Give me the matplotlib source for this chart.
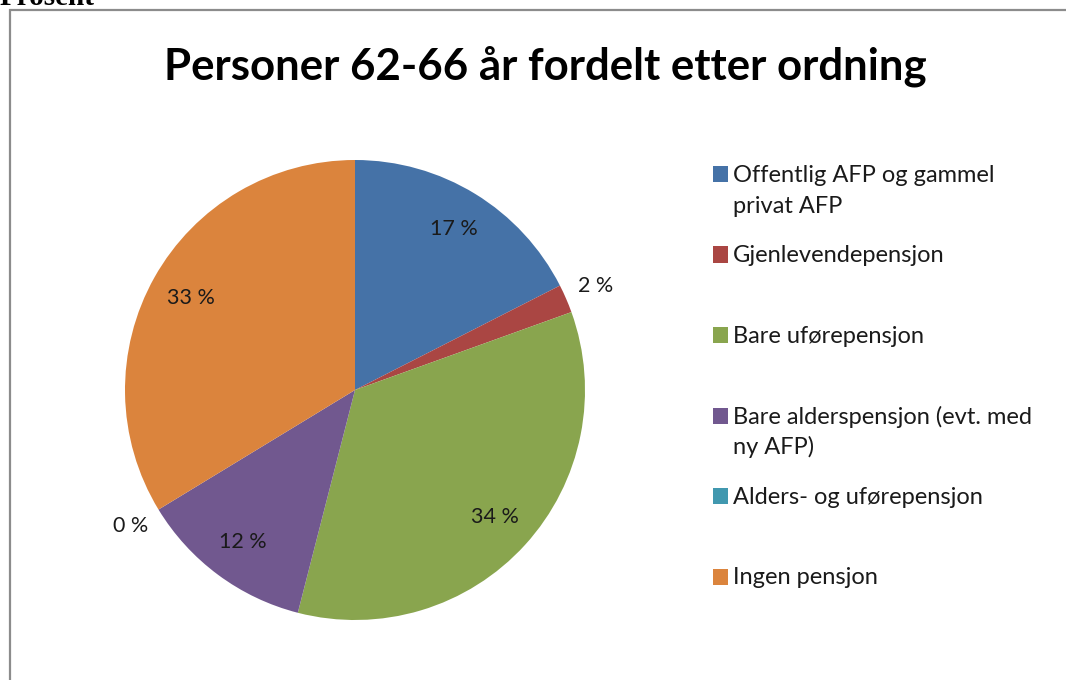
import matplotlib.pyplot as plt
from matplotlib.patches import Rectangle
import numpy as np

# data (shares in percent)
categories = ["Offentlig AFP og gammel\nprivat AFP", "Gjenlevendepensjon", "Bare uførepensjon",
              "Bare alderspensjon (evt. med\nny AFP)", "Alders- og uførepensjon", "Ingen pensjon"]
shares = [17.5, 2.0, 34.5, 12.3, 0.0, 33.7]
pct_labels = ["17 %", "2 %", "34 %", "12 %", "0 %", "33 %"]
colors = ["#4572A7", "#AA4643", "#89A54E", "#71588F", "#4198AF", "#DB843D"]

plt.rcParams['font.family'] = ['Lato', 'DejaVu Sans']

W, H = 1066, 680
fig = plt.figure(figsize=(W / 100, H / 100), dpi=100)

# chart frame
fig.patches.append(Rectangle((10 / W, -0.05), 1.1, 1 - 10 / H + 0.05, transform=fig.transFigure,
                             fill=False, edgecolor="#8c8c8c", linewidth=1.6))
fig.text(0.0, 1 - 5 / H, "Prosent", family="Liberation Serif", weight="bold", fontsize=21,
         va="baseline", ha="left")

fig.text(545 / W, 1 - 66 / H, "Personer 62-66 år fordelt etter ordning", ha="center", va="center",
         fontsize=31.5, weight="bold")

# pie
ax = fig.add_axes([125 / W, 1 - 620 / H, 460 / W, 460 / H])
wedges, _ = ax.pie(shares, colors=colors, startangle=90, counterclock=False,
                   wedgeprops=dict(linewidth=0))
ax.set_xlim(-1, 1)
ax.set_ylim(-1, 1)
ax.set_aspect("equal")
ax.axis("off")

for w, val, lab in zip(wedges, shares, pct_labels):
    ang = np.deg2rad((w.theta1 + w.theta2) / 2)
    r = 1.14 if val < 5 else 0.82
    ax.text(r * np.cos(ang), r * np.sin(ang), lab, ha="center", va="center", fontsize=15.5,
            color="#1a1a1a")

# legend, one baseline per entry
y0 = 182
step = 80.5
for i, (cat, c) in enumerate(zip(categories, colors)):
    y = y0 + i * step
    fig.patches.append(Rectangle((713 / W, 1 - y / H), 15 / W, 16 / H, transform=fig.transFigure,
                                 facecolor=c, edgecolor="none"))
    for j, line in enumerate(cat.split("\n")):
        fig.text(733 / W, 1 - (y + j * 31) / H, line, ha="left", va="baseline", fontsize=17,
                 color="#1a1a1a")

fig.savefig("out.png", dpi=100)
